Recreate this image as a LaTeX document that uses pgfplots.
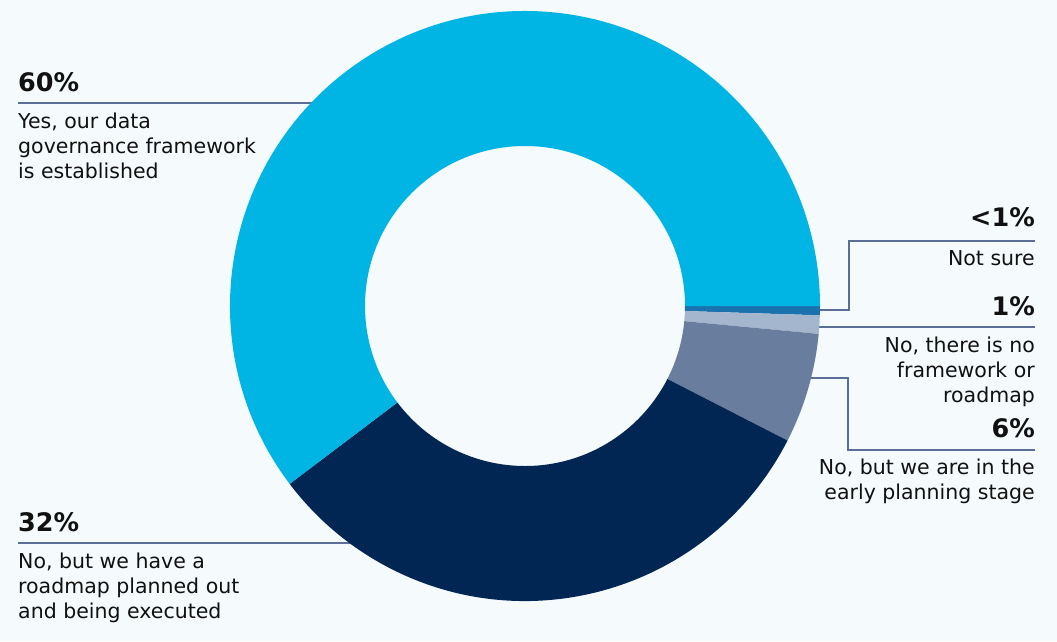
\documentclass[border=0pt]{standalone}
\usepackage{pgfplots}
\usepackage{pgfplotstable}
\pgfplotsset{compat=1.18}
\usepackage{fontspec}
\setmainfont{DejaVu Sans}
\definecolor{bg}{HTML}{F5FBFC}
\definecolor{cyanY}{HTML}{00B5E4}
\definecolor{navyR}{HTML}{022654}
\definecolor{slateE}{HTML}{697E9F}
\definecolor{lightN}{HTML}{A4B6CD}
\definecolor{blueS}{HTML}{1A72AE}
\definecolor{leader}{HTML}{5A6E96}
\definecolor{ink}{HTML}{111111}
\pgfplotstableread{
label value
notsure 0.5
none 1
early 6
roadmap 32
yes 60
}\datatable
\newcommand\body{\fontsize{20.5}{25}\selectfont}
\newcommand\pct{\fontsize{25.5}{30}\selectfont\bfseries}
\begin{document}
\begin{tikzpicture}
\pgfplotstablegetelem{0}{value}\of\datatable \let\vA\pgfplotsretval
\pgfplotstablegetelem{1}{value}\of\datatable \let\vB\pgfplotsretval
\pgfplotstablegetelem{2}{value}\of\datatable \let\vC\pgfplotsretval
\pgfplotstablegetelem{3}{value}\of\datatable \let\vD\pgfplotsretval
\pgfplotstablegetelem{4}{value}\of\datatable \let\vE\pgfplotsretval
\pgfmathsetmacro\total{\vA+\vB+\vC+\vD+\vE}
\pgfmathsetmacro\aA{-360*\vA/\total}
\pgfmathsetmacro\aB{-360*(\vA+\vB)/\total}
\pgfmathsetmacro\aC{-360*(\vA+\vB+\vC)/\total}
\pgfmathsetmacro\aD{-360*(\vA+\vB+\vC+\vD)/\total}
\newcommand\slice[3]{%
  \fill[#3, overlay] ([shift={(#1:295pt)}]axis cs:525,335) arc[start angle=#1, end angle=#2, radius=295pt]
    -- ([shift={(#2:160pt)}]axis cs:525,335) arc[start angle=#2, end angle=#1, radius=160pt] -- cycle;}
\begin{axis}[x=1pt, y=1pt, xmin=0, xmax=1057, ymin=0, ymax=641,
  hide axis, clip=false, scale only axis]
\fill[bg] (axis cs:0,0) rectangle (axis cs:1057,641);
% leader lines
\draw[leader, line width=1.3pt] (axis cs:18,538) -- (axis cs:335,538);
\draw[leader, line width=1.3pt] (axis cs:18,98) -- (axis cs:370,98);
\draw[leader, line width=1.3pt] (axis cs:805,331) -- (axis cs:849,331) -- (axis cs:849,400) -- (axis cs:1035,400);
\draw[leader, line width=1.3pt] (axis cs:805,314) -- (axis cs:1035,314);
\draw[leader, line width=1.3pt] (axis cs:795,263) -- (axis cs:848,263) -- (axis cs:848,191) -- (axis cs:1035,191);
% slices
\slice{0}{\aA}{blueS}
\slice{\aA}{\aB}{lightN}
\slice{\aB}{\aC}{slateE}
\slice{\aC}{\aD}{navyR}
\slice{\aD}{-360}{cyanY}
% left labels
\node[anchor=base west, inner sep=0pt, font=\pct, text=ink] at (axis cs:18,549) {60\%};
\node[anchor=base west, inner sep=0pt, font=\body, text=ink] at (axis cs:18,512) {Yes, our data};
\node[anchor=base west, inner sep=0pt, font=\body, text=ink] at (axis cs:18,487) {governance framework};
\node[anchor=base west, inner sep=0pt, font=\body, text=ink] at (axis cs:18,462) {is established};
\node[anchor=base west, inner sep=0pt, font=\pct, text=ink] at (axis cs:18,110) {32\%};
\node[anchor=base west, inner sep=0pt, font=\body, text=ink] at (axis cs:18,73) {No, but we have a};
\node[anchor=base west, inner sep=0pt, font=\body, text=ink] at (axis cs:18,48) {roadmap planned out};
\node[anchor=base west, inner sep=0pt, font=\body, text=ink] at (axis cs:18,23) {and being executed};
% right labels
\node[anchor=base east, inner sep=0pt, font=\pct, text=ink] at (axis cs:1035,414) {<1\%};
\node[anchor=base east, inner sep=0pt, font=\body, text=ink] at (axis cs:1035,376) {Not sure};
\node[anchor=base east, inner sep=0pt, font=\pct, text=ink] at (axis cs:1035,326) {1\%};
\node[anchor=base east, inner sep=0pt, font=\body, text=ink] at (axis cs:1035,289) {No, there is no};
\node[anchor=base east, inner sep=0pt, font=\body, text=ink] at (axis cs:1035,264) {framework or};
\node[anchor=base east, inner sep=0pt, font=\body, text=ink] at (axis cs:1035,239) {roadmap};
\node[anchor=base east, inner sep=0pt, font=\pct, text=ink] at (axis cs:1035,204) {6\%};
\node[anchor=base east, inner sep=0pt, font=\body, text=ink] at (axis cs:1035,167) {No, but we are in the};
\node[anchor=base east, inner sep=0pt, font=\body, text=ink] at (axis cs:1035,142) {early planning stage};
\end{axis}
\end{tikzpicture}
\end{document}
